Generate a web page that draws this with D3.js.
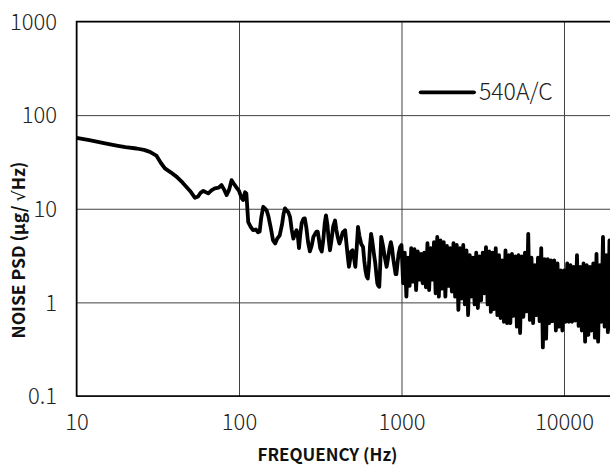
<!DOCTYPE html>
<html><head><meta charset="utf-8">
<script src="https://cdn.jsdelivr.net/npm/d3@7"></script>
<style>
body{margin:0;background:#fff}
svg text{font-family:"Noto Sans CJK SC","Noto Sans",sans-serif}
</style>
</head><body><svg id="c" width="610" height="470"></svg>
<script>
const seriesName = "540A/C";
const xTitle = "FREQUENCY (Hz)";
const yTitleParts = ["NOISE PSD (\u03bcg/ ", "\u221a", "Hz)"];
const xTickValues = [10, 100, 1000, 10000];
const xTickLabels = ["10", "100", "1000", "10000"];
const yTickValues = [0.1, 1, 10, 100, 1000];
const yTickLabels = ["0.1", "1", "10", "100", "1000"];

// 10 Hz .. ~1 kHz
const lowFreq = [
  10,12,15,18,20,23.4,26,28.3,31,33,
  35,38,41.4,45,50,53.6,56,58,60.3,64.7,
  68,71,75,78,81,84,87,90,93,96.4,
  100,104,106,109,111,114,118,122,127,131,
  134,137,141,145,148,152,157,162,167,172,
  178,184,188,192,196,201,206,211,216,221,
  226,230,234,238,243,249,254,260,266,273,
  280,287,294,300,305,310,316,323,330,337,
  343,350,356,363,370,380,390,397,405,415,
  425,435,450,460,468,475,482,490,500,510,
  520,530,540,550,565,580,590,600,610,620,
  630,640,650,660,675,690,700,710,720,730,
  740,750,770,790,810,825,845,860,875,890,
  905,920,930,945,960,980
];
const lowPsd = [
  57,54,50,47,45.5,44,42.5,40.5,37,31,
  27,24.5,21.9,19,15.5,13.1,13.5,14.8,15.5,14.6,
  15.8,16.5,16.8,17.9,16,14,16,20.2,18.5,16.9,
  15.5,12.9,12.4,15,14.5,7.2,6.4,5.9,6.0,5.6,
  5.7,8,10.5,10.0,9.6,8.2,6.2,4.6,4.25,4.8,
  5.2,6.8,8.8,10.1,9.6,9.2,8.2,6.0,4.8,5.4,
  5.9,5.2,3.8,5.2,7.0,7.8,7.9,6.2,4.4,3.5,
  4.0,5.0,5.4,5.7,5.7,4.8,3.8,3.5,4.6,7.0,
  8.5,6.8,4.8,3.6,4.5,6.5,7.5,6.0,5.0,4.25,
  4.8,5.6,5.9,4.0,3.0,2.4,2.8,3.5,3.6,3.0,
  2.4,3.8,6.4,5.2,4.2,3.9,2.8,2.2,1.9,1.8,
  2.4,4.0,5.4,4.6,3.4,2.6,2.0,1.6,1.5,1.47,
  2.5,5.0,4.0,3.0,2.4,2.9,3.8,4.4,3.8,2.9,
  2.4,2.0,2.0,2.6,3.3,3.9
];

// 1 kHz .. 20 kHz (dense noise band)
const highFreq = [
  1000,1023,1047,1072,1096,1122,1148,1175,1202,1230,
  1259,1288,1318,1349,1380,1413,1445,1479,1514,1549,
  1585,1622,1660,1698,1738,1778,1820,1862,1905,1950,
  1995,2042,2089,2138,2188,2239,2291,2344,2399,2455,
  2512,2570,2630,2692,2754,2818,2884,2951,3020,3090,
  3162,3236,3311,3388,3467,3548,3631,3715,3802,3890,
  3981,4074,4169,4266,4365,4467,4571,4677,4786,4898,
  5012,5129,5248,5370,5495,5623,5754,5888,6026,6166,
  6310,6457,6607,6761,6918,7079,7244,7413,7586,7762,
  7943,8128,8318,8511,8710,8913,9120,9333,9550,9772,
  10000,10233,10471,10715,10965,11220,11482,11749,12023,12303,
  12589,12882,13183,13490,13804,14125,14454,14791,15136,15488,
  15849,16218,16596,16982,17378,17783,18197,18621,19055,19498,
  19953
];
const highPsd = [
  4.1,1.6,3.4,1.15,3.0,1.5,3.8,1.66,3.7,1.35,
  3.5,1.75,3.3,1.6,3.4,1.45,4.3,1.35,3.8,1.75,
  4.4,1.25,5.0,1.15,4.6,1.4,4.4,1.15,4.0,1.5,
  3.8,1.3,4.3,1.15,4.1,0.83,3.8,1.1,4.1,0.95,
  3.6,0.73,3.2,1.15,3.0,0.95,3.4,0.87,3.1,1.05,
  3.4,1.25,3.9,0.95,3.5,0.79,3.4,0.85,3.8,0.73,
  3.2,0.68,2.8,0.62,3.6,0.60,3.2,0.6,3.3,0.72,
  3.1,0.55,3.2,0.47,3.1,0.70,3.4,0.8,5.4,0.65,
  3.0,0.60,2.5,0.73,3.0,0.63,3.8,0.33,2.9,0.41,
  2.9,0.6,2.8,0.63,2.8,0.50,2.6,0.55,2.2,0.50,
  2.2,0.62,2.6,0.62,2.5,0.62,2.4,0.64,3.2,0.56,
  2.4,0.5,2.6,0.38,2.5,0.45,2.4,0.50,2.6,0.42,
  3.3,0.38,2.5,0.62,5.0,0.55,3.2,0.48,4.6,0.52,
  2.5
];

const data = lowFreq.map((f, i) => ({f, v: lowPsd[i]}))
  .concat(highFreq.map((f, i) => ({f, v: highPsd[i]})));

const svg = d3.select("#c");
const m = {left: 76.5, top: 21.5};
const W = 536.4, H = 374.5;
const x = d3.scaleLog().domain([10, 20000]).range([0, W]);
const y = d3.scaleLog().domain([0.1, 1000]).range([H, 0]);

const g = svg.append("g").attr("transform", `translate(${m.left},${m.top})`);

// grid
g.append("g").attr("transform", `translate(0,${H})`)
  .call(d3.axisBottom(x).tickValues(xTickValues).tickSize(-H).tickFormat(""))
  .call(s => s.select(".domain").remove())
  .selectAll("line").attr("stroke", "#404040").attr("stroke-width", 1);
g.append("g")
  .call(d3.axisLeft(y).tickValues(yTickValues).tickSize(-W).tickFormat(""))
  .call(s => s.select(".domain").remove())
  .selectAll("line").attr("stroke", "#404040").attr("stroke-width", 1);

// frame
g.append("rect").attr("x", 0).attr("y", 0).attr("width", W).attr("height", H)
  .attr("fill", "none").attr("stroke", "#000").attr("stroke-width", 1.5);

// tick labels
const xa = g.append("g").attr("transform", `translate(0,${H})`)
  .call(d3.axisBottom(x).tickValues(xTickValues).tickSize(0)
    .tickFormat((d, i) => xTickLabels[i]));
xa.select(".domain").remove();
xa.selectAll("text").attr("y", 26).attr("dy", "0.35em")
  .attr("font-size", 22).attr("font-weight", 300).attr("fill", "#222");

const ya = g.append("g")
  .call(d3.axisLeft(y).tickValues(yTickValues).tickSize(0)
    .tickFormat((d, i) => yTickLabels[i]));
ya.select(".domain").remove();
ya.selectAll("text").attr("x", -19.5).attr("dy", "0.35em")
  .attr("font-size", 22).attr("font-weight", 300).attr("fill", "#222");

// clip + line
svg.append("defs").append("clipPath").attr("id", "clip")
  .append("rect").attr("x", 0).attr("y", 0).attr("width", W).attr("height", H);

const line = d3.line().x(d => x(d.f)).y(d => y(d.v));
g.append("path").datum(data)
  .attr("clip-path", "url(#clip)")
  .attr("d", line).attr("fill", "none").attr("stroke", "#000")
  .attr("stroke-width", 3.8).attr("stroke-linejoin", "round").attr("stroke-linecap", "round");

// legend
const lg = svg.append("g");
lg.append("line").attr("x1", 420.7).attr("x2", 474).attr("y1", 92.3).attr("y2", 92.3)
  .attr("stroke", "#000").attr("stroke-width", 3.8).attr("stroke-linecap", "round");
lg.append("text").attr("x", 479).attr("y", 92.3).attr("dy", "0.35em")
  .attr("font-size", 23).attr("font-weight", 300).attr("fill", "#222").text(seriesName);

// titles
svg.append("text").attr("x", 327.5).attr("y", 461).attr("text-anchor", "middle")
  .attr("font-size", 17).attr("font-weight", "bold").attr("fill", "#111").text(xTitle);
const yt = svg.append("text").attr("transform", "translate(25,250) rotate(-90)").attr("text-anchor", "middle")
  .attr("font-size", 17.5).attr("font-weight", "bold").attr("fill", "#111");
yt.selectAll("tspan").data(yTitleParts).join("tspan")
  .style("font-family", (d, i) => i === 1 ? "'DejaVu Sans', sans-serif" : null)
  .style("font-weight", (d, i) => i === 1 ? "normal" : null)
  .text(d => d);
</script>
</body></html>
